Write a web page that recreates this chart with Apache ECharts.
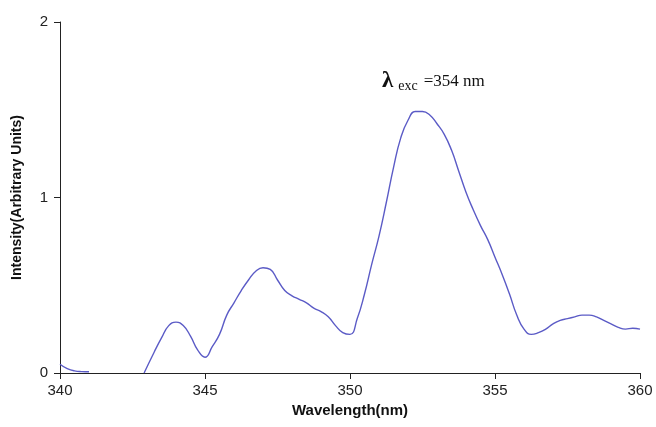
<!DOCTYPE html>
<html><head><meta charset="utf-8">
<script src="https://cdn.jsdelivr.net/npm/echarts@6/dist/echarts.min.js"></script>
<style>html,body{margin:0;padding:0;background:#fff}#c{width:656px;height:427px}</style>
</head><body><div id="c"></div>
<script>
const wavelengths = [340.0,340.25,340.5,340.75,341.0,342.0,342.9,343.25,343.5,343.75,344.0,344.25,344.5,344.75,345.0,345.25,345.5,345.75,346.0,346.25,346.5,346.75,347.0,347.25,347.5,347.75,348.0,348.25,348.5,348.75,349.0,349.25,349.5,349.75,350.0,350.25,350.5,350.75,351.0,351.25,351.5,351.75,352.0,352.25,352.5,352.75,353.0,353.25,353.5,353.75,354.0,354.25,354.5,354.75,355.0,355.25,355.5,355.75,356.0,356.25,356.5,356.75,357.0,357.25,357.5,357.75,358.0,358.25,358.5,358.75,359.0,359.25,359.5,359.75,360.0];
const intensity = [0.05,0.025,0.012,0.008,0.007,null,0.0,0.12,0.2,0.27,0.29,0.27,0.21,0.13,0.09,0.15,0.22,0.33,0.40,0.47,0.53,0.58,0.60,0.59,0.53,0.47,0.44,0.42,0.40,0.37,0.35,0.32,0.27,0.23,0.22,0.31,0.45,0.62,0.78,0.97,1.17,1.34,1.44,1.49,1.49,1.47,1.42,1.36,1.27,1.15,1.03,0.93,0.84,0.76,0.66,0.56,0.45,0.33,0.25,0.22,0.23,0.25,0.28,0.30,0.31,0.32,0.33,0.33,0.32,0.30,0.28,0.26,0.25,0.255,0.25];
const xTitle = 'Wavelength(nm)';
const yTitle = 'Intensity(Arbitrary Units)';
const annotationSymbol = 'λ';
const annotationSub = 'exc';
const annotationText = '=354 nm';

const chart = echarts.init(document.getElementById('c'));
chart.setOption({
  animation: false,
  grid: {left: 60, right: 16, top: 22, bottom: 54},
  xAxis: {
    type: 'value', min: 340, max: 360, interval: 5,
    name: xTitle, nameLocation: 'middle', nameGap: 30,
    nameTextStyle: {fontFamily: 'Liberation Sans', fontWeight: 'bold', fontSize: 15, color: '#111'},
    axisLine: {onZero: false, lineStyle: {color: '#222', width: 1}},
    axisTick: {show: true, length: 6, lineStyle: {color: '#222'}},
    axisLabel: {fontFamily: 'Liberation Sans', fontSize: 15, color: '#222', margin: 10},
    splitLine: {show: false}
  },
  yAxis: {
    type: 'value', min: 0, max: 2, interval: 1,
    name: yTitle, nameLocation: 'middle', nameGap: 36,
    nameTextStyle: {fontFamily: 'Liberation Sans', fontWeight: 'bold', fontSize: 14, color: '#111'},
    axisLine: {show: true, lineStyle: {color: '#222', width: 1}},
    axisTick: {show: true, length: 6, lineStyle: {color: '#222'}},
    axisLabel: {fontFamily: 'Liberation Sans', fontSize: 15, color: '#222', margin: 12},
    splitLine: {show: false}
  },
  series: [{
    type: 'line',
    data: wavelengths.map((w, i) => [w, intensity[i]]),
    smooth: 0.5,
    showSymbol: false,
    connectNulls: false,
    lineStyle: {color: '#5b5bc6', width: 1.4},
    z: 1
  }],
  graphic: [{
    type: 'text', left: 382, top: 70,
    style: {
      text: '{l|' + annotationSymbol + '}{s|' + annotationSub + '}{t|' + annotationText + '}',
      rich: {
        l: {fontFamily: 'Liberation Serif', fontWeight: 'bold', fontSize: 23, fill: '#111'},
        s: {fontFamily: 'Liberation Serif', fontSize: 14, fill: '#111', verticalAlign: 'bottom', padding: [8,6,0,5]},
        t: {fontFamily: 'Liberation Serif', fontSize: 17, fill: '#111'}
      }
    }
  }]
});
</script></body></html>
